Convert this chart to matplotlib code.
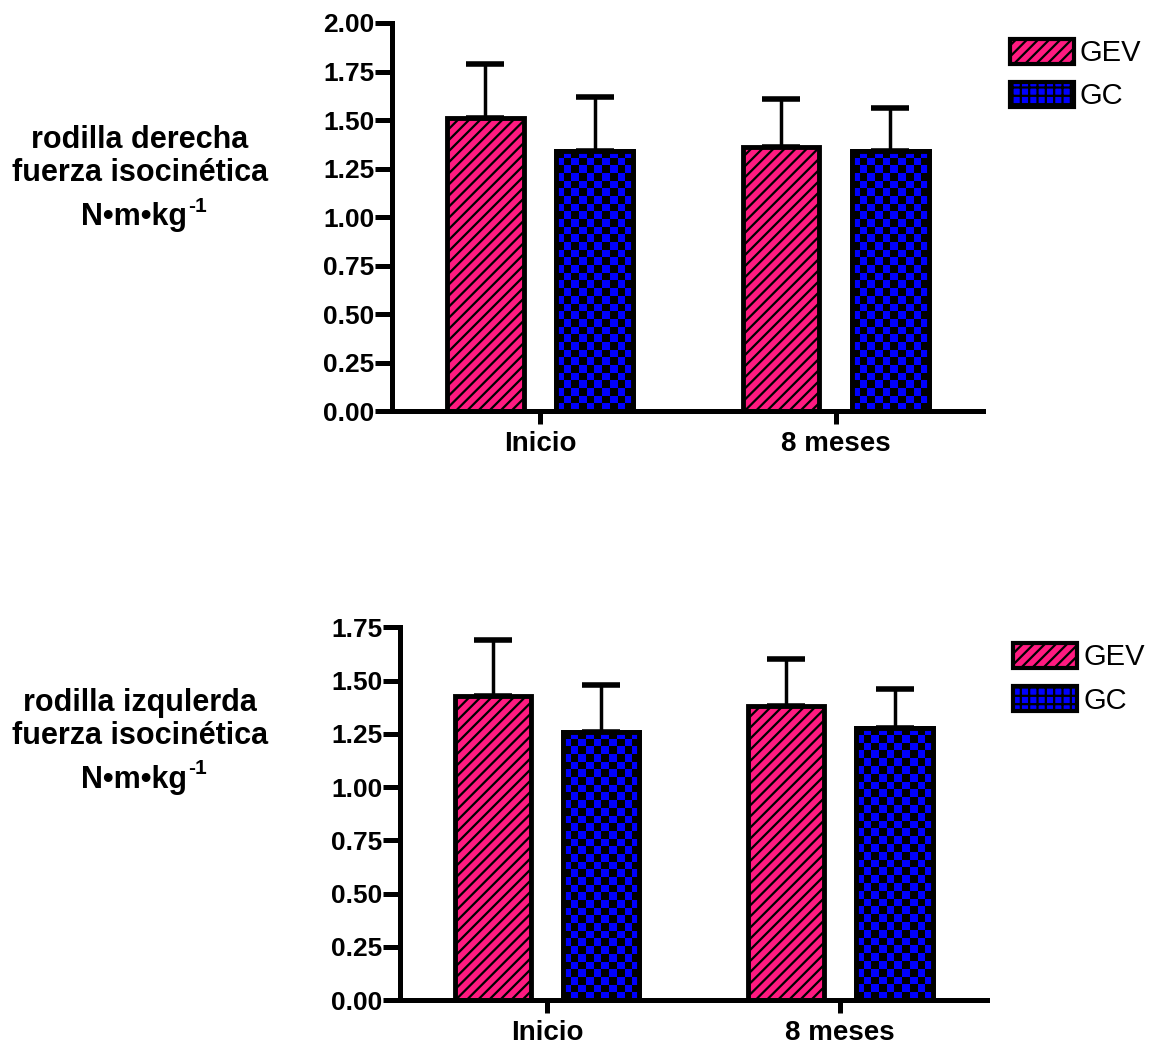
import numpy as np
import matplotlib
matplotlib.use("Agg")
import matplotlib.pyplot as plt
from matplotlib.colors import ListedColormap
from matplotlib.patches import Patch

plt.rcParams['font.family'] = ['Liberation Sans', 'DejaVu Sans']
plt.rcParams['hatch.linewidth'] = 1.6

# datos
grupos = ["Inicio", "8 meses"]
series = ["GEV", "GC"]

der_gev = [1.51, 1.36]
der_gev_err = [0.28, 0.25]
der_gc = [1.34, 1.34]
der_gc_err = [0.28, 0.22]

izq_gev = [1.43, 1.38]
izq_gev_err = [0.26, 0.22]
izq_gc = [1.26, 1.28]
izq_gc_err = [0.22, 0.18]

y_ticks_der = [0, 0.25, 0.5, 0.75, 1.0, 1.25, 1.5, 1.75, 2.0]
y_ticks_izq = [0, 0.25, 0.5, 0.75, 1.0, 1.25, 1.5, 1.75]

rosa = '#FF1A80'
azul = '#0000FF'
ancho = 0.26
desp = 0.185

fig = plt.figure(figsize=(11.57, 10.44), dpi=100)
ax1 = fig.add_axes([0.339, 0.606, 0.511, 0.372])
ax2 = fig.add_axes([0.346, 0.042, 0.507, 0.357])


def tablero(ax, bar, celda=7.7):
    # relleno a cuadros azul/negro recortado a la barra
    x0, y0 = bar.get_x(), bar.get_y()
    x1, y1 = x0 + bar.get_width(), y0 + bar.get_height()
    p0 = ax.transData.transform((x0, y0))
    p1 = ax.transData.transform((x1, y1))
    nx = max(1, int(round(abs(p1[0] - p0[0]) / celda)))
    ny = max(1, int(round(abs(p1[1] - p0[1]) / celda)))
    ii, jj = np.indices((ny, nx))
    img = (ii + jj) % 2
    im = ax.imshow(img, cmap=ListedColormap(['black', azul]), extent=(x0, x1, y0, y1),
                   origin='upper', aspect='auto', interpolation='nearest', zorder=2.5)
    im.set_clip_path(bar)


def panel(ax, gev, gev_err, gc, gc_err, yticks, ytop):
    x = np.arange(len(grupos))
    ax.set_xlim(-0.5, 1.5)
    ax.set_ylim(0, ytop)
    ax.errorbar(x - desp, gev, yerr=[np.zeros(len(gev)), gev_err], fmt='none', ecolor='black',
                elinewidth=2.5, capsize=14, capthick=4, zorder=1)
    ax.errorbar(x + desp, gc, yerr=[np.zeros(len(gc)), gc_err], fmt='none', ecolor='black',
                elinewidth=2.5, capsize=14, capthick=4, zorder=1)
    ax.bar(x - desp, gev, ancho, color=rosa, edgecolor='black', linewidth=3.5, hatch='///', zorder=2)
    b2 = ax.bar(x + desp, gc, ancho, color=azul, edgecolor='black', linewidth=3.5, zorder=2)
    for b in b2:
        tablero(ax, b)
    # borde por encima del relleno
    ax.bar(x + desp, gc, ancho, fill=False, edgecolor='black', linewidth=3.5, zorder=3)
    ax.set_xlim(-0.5, 1.5)
    ax.set_ylim(0, ytop)
    ax.set_xticks(x)
    ax.set_xticklabels(grupos, fontsize=20, fontweight='bold')
    ax.set_yticks(yticks)
    ax.set_yticklabels([f"{v:.2f}" for v in yticks], fontsize=19, fontweight='bold')
    for s in ['top', 'right']:
        ax.spines[s].set_visible(False)
    for s in ['left', 'bottom']:
        ax.spines[s].set_linewidth(3.6)
    ax.tick_params(axis='y', length=12, width=3.6, pad=1)
    ax.tick_params(axis='x', length=9, width=3.6, pad=5)
    handles = [Patch(facecolor=rosa, edgecolor='black', hatch='///', linewidth=3, label=series[0]),
               Patch(facecolor=azul, edgecolor='black', hatch='++', linewidth=3, label=series[1])]
    ax.legend(handles=handles, loc='upper left', bbox_to_anchor=(1.025, 0.99), frameon=False,
              fontsize=21, handlelength=2.2, handleheight=0.95, labelspacing=0.5,
              handletextpad=0.2, borderaxespad=0)


panel(ax1, der_gev, der_gev_err, der_gc, der_gc_err, y_ticks_der, 2.0)
panel(ax2, izq_gev, izq_gev_err, izq_gc, izq_gc_err, y_ticks_izq, 1.75)

fig.canvas.draw()
renderer = fig.canvas.get_renderer()
for base, lado in [(140, 'derecha'), (703, 'izqulerda')]:
    fig.text(140 / 1157, 1 - base / 1044, f"rodilla {lado}", ha='center', va='center',
             fontsize=22, fontweight='bold')
    fig.text(140 / 1157, 1 - (base + 33) / 1044, "fuerza isocinética", ha='center', va='center',
             fontsize=22, fontweight='bold')
    t = fig.text(134 / 1157, 1 - (base + 77) / 1044, "N•m•kg", ha='center', va='center',
                 fontsize=22, fontweight='bold')
    bb = t.get_window_extent(renderer)
    fig.text((bb.x1 + 1) / 1157, 1 - (base + 66) / 1044, "-1", ha='left', va='center',
             fontsize=15, fontweight='bold')

fig.savefig("out.png", dpi=100)
